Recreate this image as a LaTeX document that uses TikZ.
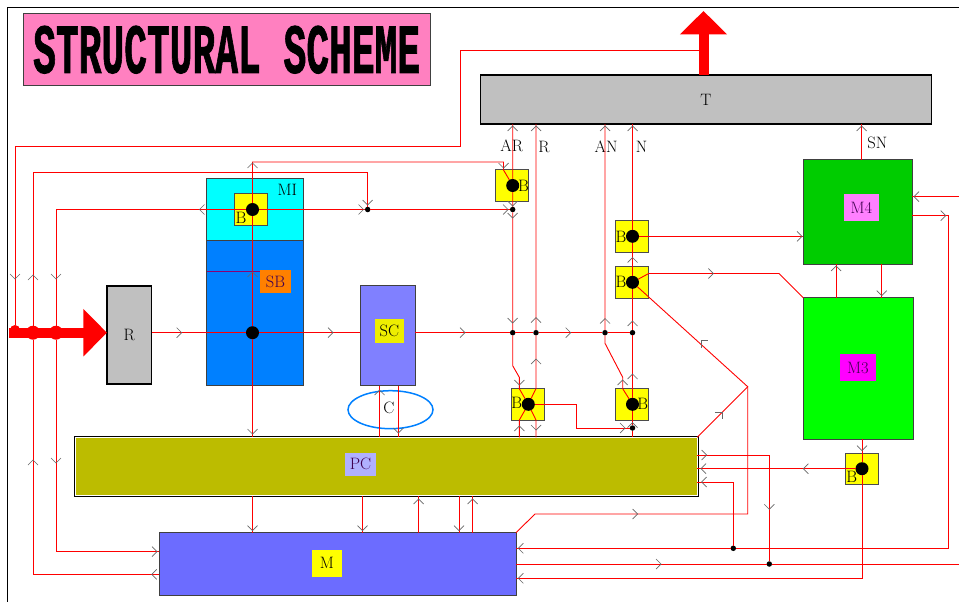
\documentclass[tikz,border=0pt]{standalone}
\usepackage{fontspec}
\usepackage{graphicx}
\usepackage{tikz}
\usetikzlibrary{shapes.geometric, arrows.meta}
\usepackage{xcolor}
\newfontfamily\titlefont[FakeBold=1.5]{Liberation Mono}
\definecolor{titlepink}{HTML}{FF80C0}
\definecolor{blockgray}{HTML}{C0C0C0}
\definecolor{micyan}{HTML}{00FFFF}
\definecolor{sbblue}{HTML}{0080FF}
\definecolor{sborange}{HTML}{FF8000}
\definecolor{scviolet}{HTML}{8080FF}
\definecolor{scyellow}{HTML}{EEEE00}
\definecolor{pcolive}{HTML}{BCBC00}
\definecolor{pclilac}{HTML}{B0B0FF}
\definecolor{mblue}{HTML}{6C6CFF}
\definecolor{myellow}{HTML}{FFFF00}
\definecolor{m4green}{HTML}{00CC00}
\definecolor{m4pink}{HTML}{FF80FF}
\definecolor{m3green}{HTML}{00FF00}
\definecolor{m3magenta}{HTML}{FF00FF}
\definecolor{labdark}{HTML}{400050}

\begin{document}
\begin{tikzpicture}[
  x=1pt, y=-1pt,
  every node/.style={inner sep=0pt, outer sep=0pt, font=\fontsize{16.5}{18}\selectfont},
  block/.style={rectangle, draw=black!75, line width=0.9pt},
  heavy/.style={rectangle, draw=black, line width=1.6pt, fill=blockgray},
  pcblock/.style={rectangle, fill=pcolive, draw=white, line width=1pt,
                  preaction={draw=black, line width=3pt}},
  ybox/.style={rectangle, draw=black!70, line width=0.9pt, fill=myellow,
               minimum width=33pt, minimum height=31.5pt},
  tag/.style={rectangle, text=labdark},
  bigdot/.style={circle, fill=black, minimum size=13pt},
  smalldot/.style={circle, fill=black, minimum size=5.5pt},
  reddot/.style={circle, fill=red, minimum size=10pt},
  wire/.style={draw=red, line width=0.9pt},
  bigarr/.style={draw=red, line width=10pt, -{Triangle[length=23.5pt,width=46pt]}},
  chev/.pic={\draw[black!60, line width=0.7pt] (-5,-5) -- (0,0) -- (-5,5);}
]
\useasboundingbox (0,0) rectangle (959,602);

% ----- frame and title -----
\draw[black, line width=0.9pt] (7.5,602) -- (7.5,7) -- (959,7);
\node[block, fill=titlepink, minimum width=407.5pt, minimum height=72.5pt] (title) at (226.7,49.7)
  {\resizebox{387pt}{47pt}{\titlefont\bfseries STRUCTURAL SCHEME}};

% ----- blocks -----
\node[heavy, minimum width=450.8pt, minimum height=49pt] (T) at (705.9,99.7) {T};
\node[heavy, minimum width=44.7pt, minimum height=98.3pt] (R) at (129.3,335.1) {R};
\node[block, fill=micyan, minimum width=96.6pt, minimum height=61.7pt] (MI) at (255,209.2) {};
\node[block, fill=sbblue, minimum width=96.6pt, minimum height=145.7pt] (SB) at (255,312.9) {};
\node[block, fill=scviolet, minimum width=55pt, minimum height=100.7pt] (SC) at (387.8,335.3) {};
\node[pcblock, minimum width=622pt, minimum height=58.5pt] (PC) at (386.2,466.5) {};
\node[block, fill=mblue, minimum width=357pt, minimum height=63pt] (M) at (337.5,564.2) {};
\node[block, fill=m4green, minimum width=109pt, minimum height=104.6pt] (M4) at (857.8,212) {};
\node[block, fill=m3green, minimum width=110pt, minimum height=141.6pt] (M3) at (858.3,368.5) {};
\node[draw=sbblue, line width=1.5pt, ellipse, minimum width=85pt, minimum height=38pt] (C) at (390.5,409.7) {};

% ----- labels -----
\node (miLab) at (287.3,190) {MI};
\node[tag, fill=sborange, minimum width=31pt, minimum height=23pt] (sbLab) at (275.5,281.5) {SB};
\node[tag, text=black, fill=scyellow, minimum width=29.3pt, minimum height=23.7pt] (scLab) at (389.3,331) {SC};
\node (cLab) at (389,408) {C};
\node[tag, fill=pclilac, minimum width=30.4pt, minimum height=23.3pt] (pcLab) at (360.5,464.3) {PC};
\node[tag, text=black, fill=myellow, minimum width=29.4pt, minimum height=26.7pt] (mLab) at (327,563.3) {M};
\node[tag, fill=m4pink, minimum width=35pt, minimum height=26.7pt] (m4Lab) at (861.5,207.7) {M4};
\node[tag, fill=m3magenta, minimum width=35.7pt, minimum height=27pt] (m3Lab) at (857.8,367.5) {M3};
\node (arLab) at (511.7,145.7) {AR};
\node (rLab) at (544,146.5) {R};
\node (anLab) at (606,146.5) {AN};
\node (nLab) at (641.7,146.5) {N};
\node (snLab) at (877.3,142.5) {SN};

% ----- switch boxes -----
\node[ybox] (bMI) at (251.2,209.5) {};
\node[ybox] (bAR) at (512.3,185.5) {};
\node[ybox] (bN1) at (632.2,236.5) {};
\node[ybox] (bN2) at (632.2,282.2) {};
\node[ybox] (bBR) at (528.3,404.3) {};
\node[ybox] (bBN) at (632.2,404.3) {};
\node[ybox] (bM3) at (861.5,468.7) {};
\foreach \n/\x/\y in {a/241/218, b/523.5/186, c/621/236.7, d/621/282, e/516.7/403, f/642.7/403.5, g/851.7/477.3}
  \node (lab\n) at (\x,\y) {B};

% ----- free ends -----
\coordinate (outT) at (703.5,50);
\coordinate (outTop) at (703.5,11);
\coordinate (inR) at (9,332.7);
\coordinate (inM4) at (959,196.7);
\coordinate (inM) at (959,564);
\coordinate (snX) at (861.7,142);

% ----- big arrows -----
\draw[bigarr] (outT |- T.north) -- (outTop);
\draw[bigarr] (inR) -- (R.west |- inR);

% ----- dots -----
\node[bigdot] (dMI) at (252.5,209.5) {};
\node[bigdot] (dSB) at (252.5,332.7) {};
\node[bigdot] (dAR) at (512.7,185.5) {};
\node[bigdot] (dN1) at (632.5,236.3) {};
\node[bigdot] (dN2) at (632.5,282.3) {};
\node[bigdot] (dBR) at (528.3,404.3) {};
\node[bigdot] (dBN) at (632.5,404.3) {};
\node[bigdot] (dM3) at (862,468.7) {};
\node[smalldot] (jA) at (367.7,209.5) {};
\node[smalldot] (jB) at (512.7,209.5) {};
\node[smalldot] (jAR) at (512.7,332.7) {};
\node[smalldot] (jR) at (536,332.7) {};
\node[smalldot] (jAN) at (605,332.7) {};
\node[smalldot] (jN) at (632.5,332.7) {};
\node[smalldot] (jP) at (632.5,428) {};
\node[smalldot] (jQ) at (733.3,548.3) {};
\node[smalldot] (jS) at (769.3,564) {};
\node[reddot] (jL1) at (15,330) {};
\node[reddot, minimum size=14pt] (jL2) at (33,332.7) {};
\node[reddot, minimum size=14pt] (jL3) at (56,332.7) {};

% ----- left bus -----
\draw[wire] (outT) -- (460,50) -- (460,146) -- (15,146) -- (jL1);
\draw[wire] (jL2) -- (33,172) -- (367.7,172) -- (jA);
\draw[wire] (jL2) |- (M.west |- 0,574.3);
\draw[wire] (jL3) -- (56,209.5) -- (dMI) -- (jA) -- (jB);
\draw[wire] (jL3) |- (M.west |- 0,551.7);

% ----- middle bus -----
\draw[wire] (R.east |- dSB) -- (dSB) -- (SC.west |- dSB);
\draw[wire] (SC.east |- dSB) -- (jAR) -- (jR) -- (jAN) -- (jN);
\draw[wire] (dSB) -- (dMI) -- (252.5,162) -- (503.5,162) -- (503.5,170) -- (dAR);
\draw[wire] (dSB) -- (dSB |- PC.north);
\draw[wire] (dSB |- PC.south) -- (dSB |- M.north);
\draw[wire, draw=red!55!blue] (SB.west |- 0,271.7) -- (sbLab.west |- 0,271.7);
\foreach \x in {379.5,398.3}
  \draw[wire] (SC.south -| \x,0) -- (PC.north -| \x,0);
\foreach \x in {362.5,418.7,459,472.7}
  \draw[wire] (PC.south -| \x,0) -- (M.north -| \x,0);

% ----- lines to T -----
\draw[wire] (dAR |- T.south) -- (dAR) -- (jB) -- (jAR) -- (512.7,365.7) -- (519.3,377.3) -- (519.3,388.7) -- (dBR);
\draw[wire] (jR |- T.south) -- (jR) -- (jR |- bBR.north) -- (dBR) -- (jR |- bBR.south) -- (jR |- PC.north);
\draw[wire] (dBR) -- (519.3,420) -- (PC.north -| 519.3,0);
\draw[wire] (jAN |- T.south) -- (jAN) -- (605,343.3) -- (622.7,377.3) -- (622.7,388.7) -- (dBN);
\draw[wire] (dN1 |- T.south) -- (dN1) -- (dN2) -- (jN) -- (dBN) -- (jP) -- (jP |- PC.north);
\draw[wire] (dBR) -- (576.7,404.3) -- (576.7,428) -- (jP);
\draw[wire] (snX |- M4.north) -- (snX |- T.south);

% ----- lines on the right -----
\draw[wire] (dN1) -- (dN1 -| M4.west);
\draw[wire] (dN2) -- (648.7,273.5) -- (779,273.5) -- (M3.north west);
\draw[wire] (dN2) -- (747.7,386.7) -- (PC.north east);
\draw[wire] (747.7,386.7) -- (747.7,514) -- (535,514) -- (M.north east);
\draw[wire] (M3.north -| 836,0) -- (M4.south -| 836,0);
\draw[wire] (M4.south -| 881.7,0) -- (M3.north -| 881.7,0);
\draw[wire] (dM3 |- M3.south) -- (dM3);
\draw[wire] (dM3) |- (M.east |- 0,578.3);
\draw[wire] (dM3) -- (dM3 -| PC.east);
\draw[wire] (M4.east |- inM4) -- (inM4);
\draw[wire] (M4.east |- 0,215.7) -- (948.3,215.7) -- (948.3,548.3) -- (jQ) -- (M.east |- jQ);
\draw[wire] (jQ) -- (733.3,482) -- (PC.east |- 0,482);
\draw[wire] (PC.east |- 0,455) -- (769.3,455) -- (jS);
\draw[wire] (M.east |- jS) -- (jS) -- (inM);

% ----- chevrons -----
\foreach \x/\y in {181.7/332.7, 333/332.7, 465/332.7, 570.7/332.7, 363.5/209.5, 508/209.5,
                   802/236.3, 713.3/273.5, 157/551.7, 625/428, 706.7/455, 637.7/514, 661/564, 945.7/215.7}
  \pic[rotate=0] at (\x,\y) {chev};
\foreach \x/\y in {199.5/209.5, 151.7/574.3, 914/196.7, 701/468.7, 803.3/468.7, 701.7/482,
                   518.3/548.3, 518.3/578.3}
  \pic[rotate=180] at (\x,\y) {chev};
\foreach \x/\y in {252.5/163, 252.5/272, 33/275, 33/460, 512.7/126, 536/126, 605/126, 632.5/126, 861.7/126,
                   536/317.7, 605/318.5, 632.5/321, 536/359, 632.5/374, 622.7/380, 632.5/257.5, 632.5/422.7,
                   519.3/426, 836/266, 418.7/499, 472.7/499, 379.5/390}
  \pic[rotate=90] at (\x,\y) {chev};
\foreach \x/\y in {15/279, 56/279, 56/463, 367.7/205, 503.5/168, 512.7/206, 512.7/218, 512.7/323,
                   519.3/385, 536/430, 252.5/434, 398.3/433, 252.5/530.7, 362.5/530.7, 459/530.7,
                   881.7/295.7, 862/450.7, 769.3/509.3}
  \pic[rotate=270] at (\x,\y) {chev};
\pic[rotate=135] at (701,340.7) {chev};
\pic[rotate=45] at (722,412) {chev};

\end{tikzpicture}
\end{document}
